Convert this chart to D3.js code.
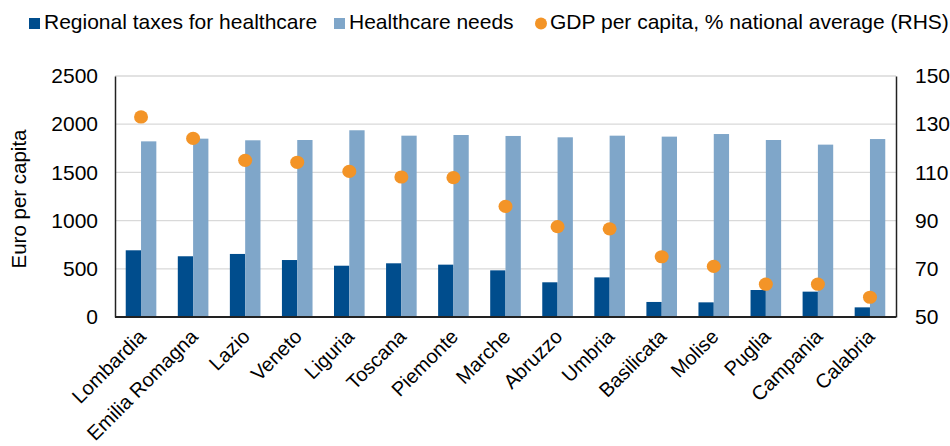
<!DOCTYPE html>
<html><head><meta charset="utf-8">
<script src="https://cdn.jsdelivr.net/npm/d3@7"></script>
<style>body{margin:0;background:#fff}svg{display:block;font-family:"Liberation Sans",Arial,sans-serif}</style>
</head><body>
<svg id="c" width="950" height="446"></svg>
<script>
const regions = ["Lombardia","Emilia Romagna","Lazio","Veneto","Liguria","Toscana","Piemonte","Marche","Abruzzo","Umbria","Basilicata","Molise","Puglia","Campania","Calabria"];
const taxes = [692,630,654,591,532,557,543,484,360,411,156,152,280,263,100];
const needs = [1822,1850,1833,1836,1937,1881,1888,1878,1864,1881,1871,1898,1836,1788,1846];
const gdp = [133,124.1,115,114.2,110.4,108.1,107.8,95.9,87.5,86.6,75,71,63.6,63.6,58.2];
const leftTicks = [0,500,1000,1500,2000,2500];
const rightTicks = [50,70,90,110,130,150];
const seriesNames = ["Regional taxes for healthcare","Healthcare needs","GDP per capita, % national average (RHS)"];

const FONT = "Liberation Sans, Arial, sans-serif";
const svg = d3.select("#c");
const L = 115, R = 896, T = 76, B = 317;
const x = d3.scaleBand().domain(regions).range([L, R]);
const yL = d3.scaleLinear().domain([0,2500]).range([B, T]);
const yR = d3.scaleLinear().domain([50,150]).range([B, T]);
const barW = 15.3;
const cDark = "#004D8D", cLight = "#7FA6C9", cOr = "#F39427";

// gridlines
svg.append("g").selectAll("line").data(leftTicks.filter(d=>d>0)).join("line")
  .attr("x1", L).attr("x2", R).attr("y1", d=>yL(d)).attr("y2", d=>yL(d))
  .attr("stroke", "#d9d9d9").attr("stroke-width", 1.3);

// bars
const g = svg.append("g");
g.selectAll("rect.t").data(regions).join("rect").attr("class","t")
  .attr("x", d=>x(d)+x.bandwidth()/2-barW).attr("width", barW)
  .attr("y", (d,i)=>yL(taxes[i])).attr("height", (d,i)=>B-yL(taxes[i]))
  .attr("fill", cDark);
g.selectAll("rect.n").data(regions).join("rect").attr("class","n")
  .attr("x", d=>x(d)+x.bandwidth()/2).attr("width", barW)
  .attr("y", (d,i)=>yL(needs[i])).attr("height", (d,i)=>B-yL(needs[i]))
  .attr("fill", cLight);
g.selectAll("ellipse").data(regions).join("ellipse")
  .attr("cx", d=>x(d)+x.bandwidth()/2).attr("cy", (d,i)=>yR(gdp[i]))
  .attr("rx", 7).attr("ry", 6.6)
  .attr("fill", cOr);

// axes
const axL = svg.append("g").attr("transform", `translate(${L},0)`)
  .call(d3.axisLeft(yL).tickValues(leftTicks).tickFormat(d3.format("d")).tickSize(0).tickPadding(17));
const axR = svg.append("g").attr("transform", `translate(${R},0)`)
  .call(d3.axisRight(yR).tickValues(rightTicks).tickFormat(d3.format("d")).tickSize(0).tickPadding(19));
[axL, axR].forEach(a=>{
  a.select(".domain").attr("stroke","#222").attr("stroke-width",1.5);
  a.selectAll("text").attr("font-size",21).attr("fill","#000").attr("font-family",FONT);
});
svg.append("line").attr("x1", L).attr("x2", R).attr("y1", B).attr("y2", B)
  .attr("stroke","#222").attr("stroke-width",1.8);

const axX = svg.append("g").attr("transform", `translate(0,${B})`)
  .call(d3.axisBottom(x).tickSize(0).tickPadding(0));
axX.select(".domain").remove();
axX.selectAll("text").attr("font-size",20).attr("fill","#000")
  .attr("font-family",FONT)
  .attr("text-anchor","end").attr("dy",null).attr("y",0)
  .attr("transform","translate(6,21) rotate(-45)");

// y title
svg.append("text").attr("transform","translate(26,199) rotate(-90)")
  .attr("text-anchor","middle").attr("font-size",20.5).attr("font-family",FONT).text("Euro per capita");

// legend
const lg = svg.append("g").attr("font-family",FONT).attr("font-size",21);
lg.append("rect").attr("x",29).attr("y",18).attr("width",11).attr("height",11).attr("fill",cDark);
lg.append("text").attr("x",44).attr("y",29).text(seriesNames[0]);
lg.append("rect").attr("x",334).attr("y",18).attr("width",11).attr("height",11).attr("fill",cLight);
lg.append("text").attr("x",349).attr("y",29).text(seriesNames[1]);
lg.append("circle").attr("cx",541).attr("cy",23.5).attr("r",6).attr("fill",cOr);
lg.append("text").attr("x",550).attr("y",29).text(seriesNames[2]);
</script>
</body></html>
